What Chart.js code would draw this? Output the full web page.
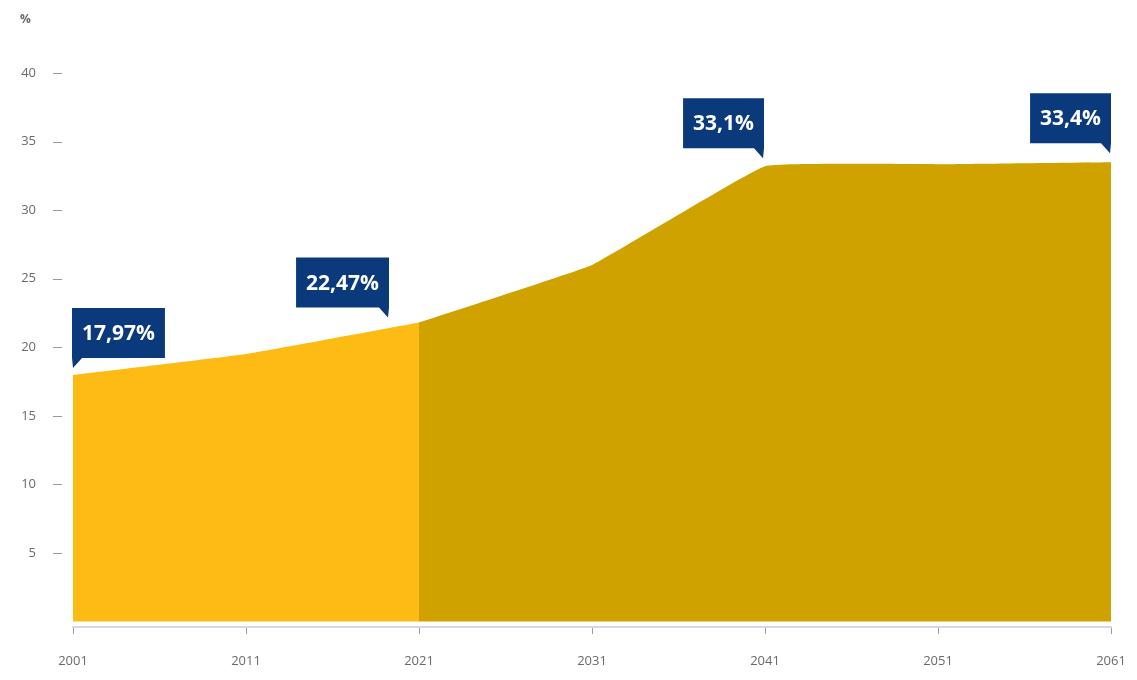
<!DOCTYPE html>
<html lang="en">
<head>
  <meta charset="UTF-8">
  <title>Share chart</title>
  <script src="https://cdn.jsdelivr.net/npm/chart.js"></script>
  <style>
    html, body { margin: 0; padding: 0; background: #fff; }
    #wrap { width: 1137px; height: 680px; position: relative; }
  </style>
</head>
<body>
  <div id="wrap"><canvas id="chart"></canvas></div>
  <script>
    // Years on the x axis
    const years = [2001, 2011, 2021, 2031, 2041, 2051, 2061];
    // Values (%)
    const shares = [17.97, 19.5, 21.8, 26.0, 33.2, 33.35, 33.5];
    // Observed part ends at 2021, projection after that
    const splitYear = 2021;
    const yTicks = [5, 10, 15, 20, 25, 30, 35, 40];
    // Callouts: which point they hang on and their text
    const calloutIndex = [0, 2, 4, 6];
    const calloutText = ['17,97%', '22,47%', '33,1%', '33,4%'];

    const observed = years.map((y, i) => ({ x: y, y: shares[i] })).filter(p => p.x <= splitYear);
    const projected = years.map((y, i) => ({ x: y, y: shares[i] })).filter(p => p.x >= splitYear);

    const navy = '#0b3a7c';

    const calloutPlugin = {
      id: 'callouts',
      afterDatasetsDraw(chart, args, opts) {
        const ctx = chart.ctx;
        const xs = chart.scales.x, ys = chart.scales.y;
        ctx.save();
        ctx.font = 'bold 21px "Open Sans", sans-serif';
        calloutIndex.forEach((idx, k) => {
          const side = opts.side[k];
          const tipX = xs.getPixelForValue(years[idx]) + opts.dx[k];
          const tipY = ys.getPixelForValue(shares[idx]) - opts.dy[k];
          const tw = ctx.measureText(calloutText[k]).width;
          const w = tw + opts.padX * 2;
          const h = opts.h;
          const bottom = tipY - opts.tail;
          let left = side === 'left' ? tipX - 1 : tipX - w + 1;
          ctx.fillStyle = navy;
          ctx.beginPath();
          if (side === 'left') {
            ctx.moveTo(left, bottom - h);
            ctx.lineTo(left + w, bottom - h);
            ctx.lineTo(left + w, bottom);
            ctx.lineTo(left + opts.tail, bottom);
            ctx.lineTo(tipX, tipY);
            ctx.lineTo(left, bottom);
          } else {
            ctx.moveTo(left, bottom - h);
            ctx.lineTo(left + w, bottom - h);
            ctx.lineTo(left + w, bottom);
            ctx.lineTo(tipX, tipY);
            ctx.lineTo(left + w - opts.tail, bottom);
            ctx.lineTo(left, bottom);
          }
          ctx.closePath();
          ctx.fill();
          ctx.fillStyle = '#ffffff';
          ctx.textAlign = 'center';
          ctx.textBaseline = 'middle';
          ctx.fillText(calloutText[k], left + w / 2, bottom - h / 2 + 1);
        });
        ctx.restore();
      }
    };

    const extrasPlugin = {
      id: 'extras',
      afterDraw(chart) {
        const ctx = chart.ctx;
        const ys = chart.scales.y;
        ctx.save();
        // little dashes next to the y labels
        ctx.strokeStyle = '#9a9a9a';
        ctx.lineWidth = 1;
        yTicks.forEach(t => {
          const py = Math.round(ys.getPixelForValue(t)) + 0.5;
          ctx.beginPath();
          ctx.moveTo(53, py);
          ctx.lineTo(62, py);
          ctx.stroke();
        });
        // unit label
        ctx.fillStyle = '#666';
        ctx.font = 'bold 12px "Open Sans", sans-serif';
        ctx.textAlign = 'left';
        ctx.textBaseline = 'middle';
        ctx.fillText('%', 20, 20);
        ctx.restore();
      }
    };

    new Chart(document.getElementById('chart'), {
      type: 'line',
      data: {
        datasets: [
          {
            data: observed,
            backgroundColor: '#fdbb13',
            borderColor: '#fdbb13',
            borderWidth: 0,
            fill: 'origin',
            pointRadius: 0,
            tension: 0.1
          },
          {
            data: projected,
            backgroundColor: '#cfa200',
            borderColor: '#cfa200',
            borderWidth: 0,
            fill: 'origin',
            pointRadius: 0,
            tension: 0.08
          }
        ]
      },
      options: {
        responsive: true,
        maintainAspectRatio: false,
        animation: false,
        layout: { padding: { top: 73, right: 26, bottom: 0, left: 0 } },
        plugins: {
          legend: { display: false },
          tooltip: { enabled: false },
          callouts: {
            side: ['left', 'right', 'right', 'right'],
            dx: [0, -31, -2, -1],
            dy: [7, 5, 8, 9],
            padX: 10,
            h: 50,
            tail: 10
          }
        },
        scales: {
          x: {
            type: 'linear',
            min: 2001,
            max: 2061,
            border: { display: true, color: '#ddd3ee', width: 2 },
            grid: { display: true, drawOnChartArea: false, drawTicks: true, tickLength: 7, color: '#9a9a9a' },
            afterBuildTicks: axis => { axis.ticks = years.map(v => ({ value: v })); },
            afterFit: axis => { axis.height = 53; axis.paddingLeft = 0; axis.paddingRight = 0; },
            ticks: {
              color: '#6a6a6a',
              font: { family: '"Open Sans", sans-serif', size: 13 },
              padding: 19,
              callback: v => String(v)
            }
          },
          y: {
            min: -0.4,
            max: 40,
            border: { display: false },
            grid: { display: false },
            afterBuildTicks: axis => { axis.ticks = yTicks.map(v => ({ value: v })); },
            afterFit: axis => { axis.width = 73; axis.paddingTop = 0; axis.paddingBottom = 0; },
            ticks: {
              color: '#6a6a6a',
              font: { family: '"Open Sans", sans-serif', size: 13 },
              padding: 29
            }
          }
        }
      },
      plugins: [calloutPlugin, extrasPlugin]
    });
  </script>
</body>
</html>
